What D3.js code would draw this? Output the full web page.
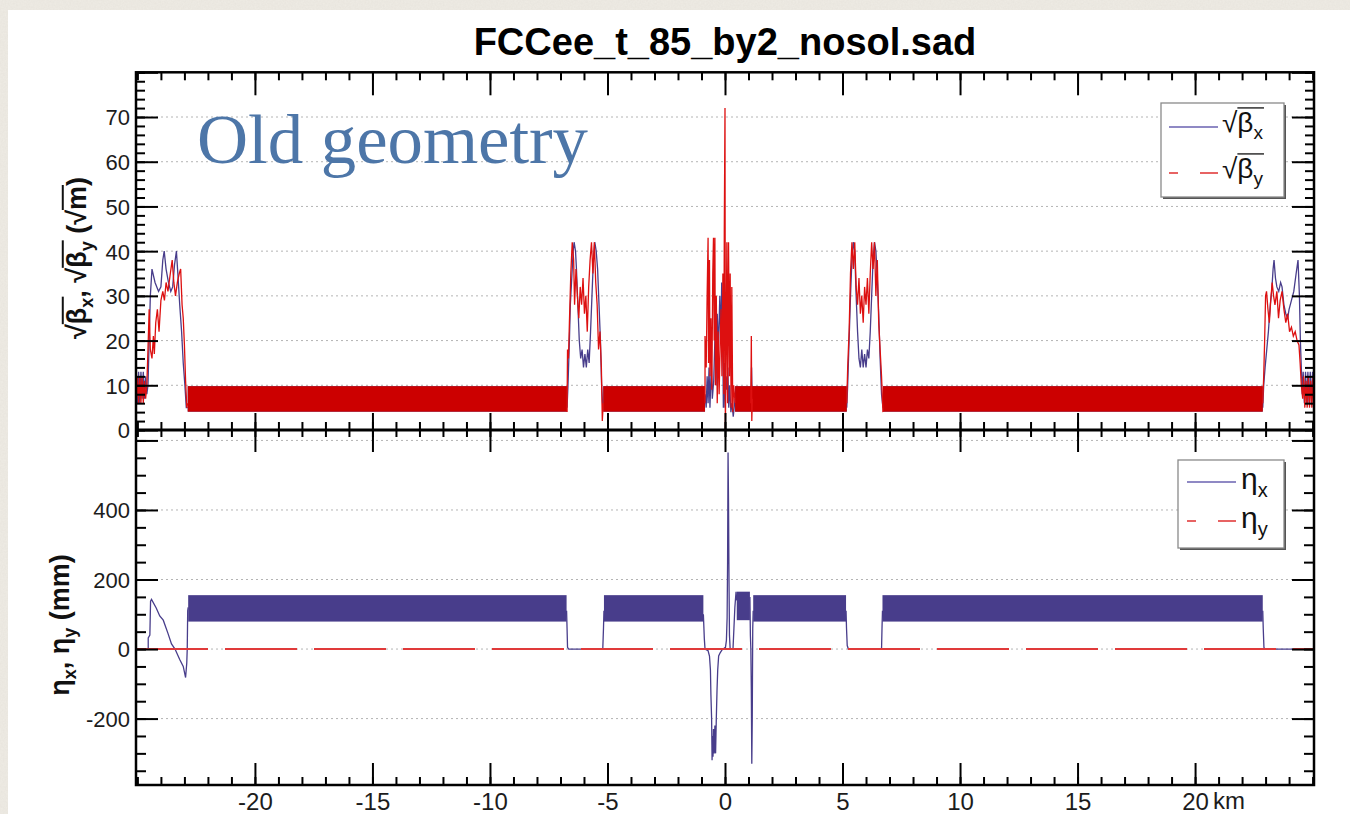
<!DOCTYPE html>
<html>
<head>
<meta charset="utf-8">
<script src="https://cdn.jsdelivr.net/npm/d3@7"></script>
<style>
  body { margin: 0; background: #eeebe4; }
  svg { display: block; }
  .tick line { stroke: #000; stroke-width: 2; }
  .tick text { font-family: "Liberation Sans", Arial, sans-serif; font-size: 22px; fill: #1c1c1c; }
</style>
</head>
<body>
<svg id="canvas" width="1350" height="814"></svg>
<script>
// ---- data ----
var sDomain = [-25.06, 25.06];
var betaDomain = [0, 80];
var etaDomain = [-391, 630];

var betaTicks = [0, 10, 20, 30, 40, 50, 60, 70, 80];
var betaTickLabels = ["0", "10", "20", "30", "40", "50", "60", "70", ""];
var etaTicks = [-200, 0, 200, 400, 600];
var etaTickLabels = ["-200", "0", "200", "400", ""];
var sTicks = [-20, -15, -10, -5, 0, 5, 10, 15, 20];
var sTickLabels = ["-20", "-15", "-10", "-5", "0", "5", "10", "15", "20"];

// arcs: the FODO beating is so dense it reads as a filled band
var arcStart = [-22.86, -5.18, 0.43, 6.72];
var arcEnd = [-6.72, -0.85, 5.18, 22.88];
var arcBetaLo = [4.1, 4.1, 4.1, 4.1];
var arcBetaHi = [9.8, 9.8, 9.8, 9.8];

var etaBandStart = [-22.84, -5.15, 1.20, 6.70, 0.50];
var etaBandEnd = [-6.74, -0.92, 5.15, 22.88, 1.06];
var etaBandLo = [79, 79, 79, 79, 83];
var etaBandHi = [155, 155, 155, 155, 165];

// straight sections, sqrt(beta_x)
var betaXLeftEnd = [[-25.05,13],[-25.0,6],[-24.95,13],[-24.9,6],[-24.85,13],[-24.8,7],[-24.75,13],[-24.7,7],[-24.65,12],[-24.6,8],[-24.55,10],[-24.5,20],[-24.45,30],[-24.38,36],[-24.25,33],[-24.1,31],[-24.0,32],[-23.92,38],[-23.86,40],[-23.78,36],[-23.68,33],[-23.58,31],[-23.5,32],[-23.42,37],[-23.34,40],[-23.28,35],[-23.2,28],[-23.12,22],[-23.05,15],[-22.98,10],[-22.92,5],[-22.86,5]];
var betaXIrM6 = [[-6.72,5],[-6.68,10],[-6.62,20],[-6.58,28],[-6.52,34],[-6.46,40],[-6.42,42],[-6.36,40],[-6.32,36],[-6.26,28],[-6.2,20],[-6.14,16],[-6.08,18],[-6.02,14],[-5.96,17],[-5.9,14],[-5.84,18],[-5.78,15],[-5.72,22],[-5.66,30],[-5.6,38],[-5.54,42],[-5.48,40],[-5.42,36],[-5.36,28],[-5.3,20],[-5.25,10],[-5.2,5]];
var betaXIp = [[-0.85,8],[-0.8,5],[-0.76,12],[-0.72,6],[-0.68,14],[-0.64,5],[-0.58,15],[-0.54,7],[-0.48,11],[-0.42,22],[-0.38,10],[-0.33,26],[-0.28,18],[-0.22,30],[-0.18,20],[-0.14,33],[-0.1,22],[-0.07,5],[-0.03,15],[0,5],[0.04,12],[0.08,9],[0.12,14],[0.16,5],[0.2,10],[0.25,4],[0.3,6],[0.35,3],[0.43,7]];
var betaXIrP6 = [[5.18,5],[5.22,10],[5.28,20],[5.34,30],[5.4,38],[5.46,42],[5.52,40],[5.58,30],[5.64,22],[5.7,16],[5.76,14],[5.82,18],[5.88,14],[5.94,17],[6.0,14],[6.06,18],[6.12,16],[6.18,22],[6.24,30],[6.3,38],[6.36,42],[6.42,40],[6.48,34],[6.54,26],[6.6,16],[6.66,8],[6.72,5]];
var betaXRightEnd = [[22.88,5],[22.92,10],[22.98,14],[23.05,18],[23.12,22],[23.2,28],[23.26,31],[23.32,36],[23.36,38],[23.42,34],[23.48,32],[23.56,31],[23.64,33],[23.7,32],[23.78,28],[23.86,26],[23.94,25],[24.0,27],[24.1,29],[24.2,31],[24.3,35],[24.38,38],[24.44,30],[24.48,20],[24.52,14],[24.56,8],[24.6,13],[24.65,6],[24.7,13],[24.75,6],[24.8,13],[24.85,6],[24.9,13],[24.95,6],[25.0,13],[25.05,6]];
var betaXSpike = [[1.1,6],[1.13,14],[1.16,5]];

// straight sections, sqrt(beta_y)
var betaYLeftEnd = [[-25.05,6],[-25.0,12],[-24.95,6],[-24.9,12],[-24.85,6],[-24.8,12],[-24.75,6],[-24.7,11],[-24.65,7],[-24.6,10],[-24.55,18],[-24.5,27],[-24.45,18],[-24.38,16],[-24.32,21],[-24.28,17],[-24.22,24],[-24.15,27],[-24.08,22],[-24.0,29],[-23.92,31],[-23.85,29],[-23.78,33],[-23.7,31],[-23.6,35],[-23.52,38],[-23.45,33],[-23.38,30],[-23.3,33],[-23.22,35],[-23.16,36],[-23.1,28],[-23.05,25],[-23.0,19],[-22.95,11],[-22.9,5],[-22.86,6]];
var betaYIrM6 = [[-6.72,4],[-6.7,18],[-6.66,16],[-6.62,24],[-6.56,35],[-6.5,42],[-6.44,38],[-6.4,28],[-6.34,36],[-6.28,30],[-6.22,25],[-6.16,32],[-6.1,28],[-6.04,34],[-5.98,26],[-5.92,30],[-5.86,22],[-5.8,32],[-5.74,38],[-5.68,42],[-5.62,35],[-5.56,42],[-5.5,33],[-5.44,28],[-5.38,18],[-5.32,22],[-5.26,14],[-5.22,2],[-5.18,6]];
var betaYIp = [[-0.85,6],[-0.85,21],[-0.8,14],[-0.76,30],[-0.72,43],[-0.7,15],[-0.66,38],[-0.64,12],[-0.6,25],[-0.56,9],[-0.52,35],[-0.49,43],[-0.46,20],[-0.43,43],[-0.41,10],[-0.37,30],[-0.33,6],[-0.29,22],[-0.25,8],[-0.21,18],[-0.17,27],[-0.13,12],[-0.09,35],[-0.05,8],[-0.03,45],[0,72],[0.015,0],[0.05,20],[0.08,42],[0.11,6],[0.15,42],[0.19,12],[0.22,35],[0.26,5],[0.29,32],[0.33,4],[0.37,10],[0.43,6]];
var betaYIrP6 = [[5.18,6],[5.22,14],[5.28,22],[5.34,35],[5.4,42],[5.46,36],[5.52,42],[5.58,32],[5.64,28],[5.7,34],[5.76,26],[5.82,30],[5.88,24],[5.94,32],[6.0,28],[6.06,34],[6.12,26],[6.18,35],[6.24,42],[6.3,36],[6.36,42],[6.42,30],[6.48,38],[6.54,24],[6.6,18],[6.66,12],[6.72,4]];
var betaYRightEnd = [[22.88,6],[22.92,12],[22.96,20],[23.0,30],[23.04,31],[23.1,27],[23.16,24],[23.22,29],[23.28,33],[23.34,30],[23.4,28],[23.48,31],[23.55,25],[23.62,29],[23.7,31],[23.78,27],[23.86,24],[23.94,26],[24.02,22],[24.1,23],[24.18,21],[24.26,22],[24.34,20],[24.42,19],[24.47,15],[24.52,10],[24.58,7],[24.62,12],[24.67,5],[24.72,11],[24.77,5],[24.82,12],[24.87,5],[24.92,11],[24.97,5],[25.02,12],[25.05,6]];
var betaYSpike = [[1.1,6],[1.12,21],[1.14,2],[1.16,7]];

// dispersion outside the arc bands
var etaXLeftEnd = [[-25.06,0],[-24.54,0],[-24.54,32],[-24.47,40],[-24.44,138],[-24.4,143],[-24.2,118],[-24.05,95],[-23.9,83],[-23.7,45],[-23.55,15],[-23.4,0],[-23.2,-30],[-23.05,-50],[-22.95,-82],[-22.9,-40],[-22.88,0],[-22.86,110],[-22.84,120]];
var etaXIrM6 = [[-6.74,110],[-6.72,60],[-6.7,5],[-6.65,0],[-5.2,0],[-5.17,60],[-5.15,110]];
var etaXIp = [[-0.92,100],[-0.88,30],[-0.85,0],[-0.72,-5],[-0.66,-20],[-0.62,-60],[-0.6,-130],[-0.57,-200],[-0.55,-320],[-0.53,-250],[-0.51,-310],[-0.49,-230],[-0.46,-300],[-0.43,-220],[-0.4,-300],[-0.37,-200],[-0.34,-120],[-0.31,-60],[-0.27,-20],[-0.2,-10],[-0.12,-2],[0.02,5],[0.06,25],[0.09,90],[0.11,250],[0.13,565],[0.15,420],[0.17,200],[0.19,40],[0.22,0],[0.34,0],[0.38,60],[0.42,120],[0.47,165],[0.5,140]];
var etaXIpRight = [[1.06,150],[1.08,40],[1.1,0],[1.12,-120],[1.14,-330],[1.16,-200],[1.18,60],[1.2,110]];
var etaXIrP6 = [[5.15,110],[5.17,60],[5.2,10],[5.25,0],[6.66,0],[6.68,60],[6.7,110]];
var etaXRightEnd = [[22.88,110],[22.9,60],[22.93,5],[22.96,0],[25.06,0]];
var etaY = [[-25.06,0],[25.06,0]];

var betaXSegments = [betaXLeftEnd, betaXIrM6, betaXIp, betaXIrP6, betaXRightEnd, betaXSpike];
var betaYSegments = [betaYLeftEnd, betaYIrM6, betaYIp, betaYIrP6, betaYRightEnd, betaYSpike];
var etaXSegments = [etaXLeftEnd, etaXIrM6, etaXIp, etaXIpRight, etaXIrP6, etaXRightEnd];

(function(){

    var BLUE = "#483d8b", RED = "#cc0000";
    var L = 136, R = 1314, TOP = 72.3, MID = 430, BOT = 785;

    var svg = d3.select("#canvas");

    // paper background + white slide
    var defs = svg.append("defs");
    var f = defs.append("filter").attr("id", "paper");
    f.append("feTurbulence").attr("type", "fractalNoise").attr("baseFrequency", 0.6).attr("numOctaves", 2).attr("result", "n");
    f.append("feColorMatrix").attr("type", "matrix")
        .attr("values", "0 0 0 0 0.55  0 0 0 0 0.52  0 0 0 0 0.47  0 0 0 0.18 0");
    defs.append("clipPath").attr("id", "clipTop").append("rect")
        .attr("x", L).attr("y", TOP).attr("width", R - L).attr("height", MID - TOP);
    defs.append("clipPath").attr("id", "clipBot").append("rect")
        .attr("x", L).attr("y", MID).attr("width", R - L).attr("height", BOT - MID);

    svg.append("rect").attr("width", 1350).attr("height", 814).attr("fill", "#efece5");
    svg.append("rect").attr("width", 1350).attr("height", 814).attr("filter", "url(#paper)");
    svg.append("rect").attr("x", 8).attr("y", 10).attr("width", 1342).attr("height", 804).attr("fill", "#fff");

    var x = d3.scaleLinear().domain(sDomain).range([L, R]);
    var yTop = d3.scaleLinear().domain(betaDomain).range([MID, TOP]);
    var yBot = d3.scaleLinear().domain(etaDomain).range([BOT, MID]);

    function drawGrid(g, ticks, y){
        g.selectAll(null).data(ticks).enter().append("line")
            .attr("x1", L).attr("x2", R)
            .attr("y1", function(d){ return y(d); }).attr("y2", function(d){ return y(d); })
            .attr("stroke", "#b4b4b4").attr("stroke-width", 1).attr("stroke-dasharray", "2,3");
    }

    function drawBands(g, starts, ends, los, his, y, fill){
        g.selectAll(null).data(starts).enter().append("rect")
            .attr("x", function(d){ return x(d); })
            .attr("width", function(d, i){ return x(ends[i]) - x(d); })
            .attr("y", function(d, i){ return y(his[i]); })
            .attr("height", function(d, i){ return y(los[i]) - y(his[i]); })
            .attr("fill", fill);
    }

    function drawCurves(g, segs, y, color, width, dash){
        var line = d3.line().x(function(d){ return x(d[0]); }).y(function(d){ return y(d[1]); });
        g.selectAll(null).data(segs).enter().append("path")
            .attr("d", line).attr("fill", "none")
            .attr("stroke", color).attr("stroke-width", width)
            .attr("stroke-dasharray", dash || null);
    }

    function drawAxis(axis, tx, ty, labels){
        var a = svg.append("g").attr("transform", "translate(" + tx + "," + ty + ")").call(axis);
        a.select(".domain").remove();
        if (!labels) a.selectAll("text").remove();
        return a;
    }

    // ---------- top pad: sqrt(beta) ----------
    var top = svg.append("g").attr("clip-path", "url(#clipTop)");
    drawGrid(top, betaTicks.slice(1, 8), yTop);
    drawBands(top, arcStart, arcEnd, arcBetaLo, arcBetaHi, yTop, BLUE);
    drawCurves(top, betaXSegments, yTop, BLUE, 1.3);
    drawBands(top, arcStart, arcEnd, arcBetaLo, arcBetaHi, yTop, RED);
    drawCurves(top, betaYSegments, yTop, "#dd1010", 1.3);

    // ---------- bottom pad: dispersion ----------
    var bot = svg.append("g").attr("clip-path", "url(#clipBot)");
    drawGrid(bot, etaTicks, yBot);
    drawCurves(bot, etaXSegments, yBot, BLUE, 1.3);
    drawBands(bot, etaBandStart, etaBandEnd, etaBandLo, etaBandHi, yBot, BLUE);
    drawCurves(bot, [etaY], yBot, "#e03a3a", 2, "72,17");

    // ---------- axes ----------
    var minorS = d3.range(-25, 26, 1);
    // top pad
    drawAxis(d3.axisTop(x).tickValues(minorS).tickSizeInner(-8).tickSizeOuter(0), 0, TOP);
    drawAxis(d3.axisTop(x).tickValues(sTicks).tickSizeInner(-23).tickSizeOuter(0), 0, TOP);
    drawAxis(d3.axisBottom(x).tickValues(minorS).tickSizeInner(-8).tickSizeOuter(0), 0, MID);
    drawAxis(d3.axisBottom(x).tickValues(sTicks).tickSizeInner(-17).tickSizeOuter(0), 0, MID);
    drawAxis(d3.axisLeft(yTop).tickValues(d3.range(0, 81, 2)).tickSizeInner(-9).tickSizeOuter(0), L, 0);
    drawAxis(d3.axisLeft(yTop).tickValues(betaTicks).tickSizeInner(-22).tickSizeOuter(0).tickPadding(6)
        .tickFormat(function(d, i){ return betaTickLabels[i]; }), L, 0, true)
        .selectAll("text").attr("dy", "0.36em");
    drawAxis(d3.axisRight(yTop).tickValues(d3.range(0, 81, 2)).tickSizeInner(-9).tickSizeOuter(0), R, 0);
    drawAxis(d3.axisRight(yTop).tickValues(betaTicks).tickSizeInner(-22).tickSizeOuter(0), R, 0);
    // bottom pad
    var minorEta = d3.range(-350, 601, 50);
    drawAxis(d3.axisTop(x).tickValues(minorS).tickSizeInner(-7).tickSizeOuter(0), 0, MID);
    drawAxis(d3.axisTop(x).tickValues(sTicks).tickSizeInner(-22).tickSizeOuter(0), 0, MID);
    drawAxis(d3.axisBottom(x).tickValues(minorS).tickSizeInner(-8).tickSizeOuter(0), 0, BOT);
    var xb = drawAxis(d3.axisBottom(x).tickValues(sTicks).tickSizeInner(-22).tickSizeOuter(0).tickPadding(8)
        .tickFormat(function(d, i){ return sTickLabels[i]; }), 0, BOT, true);
    xb.selectAll("text").style("font-size", "24px");
    drawAxis(d3.axisLeft(yBot).tickValues(minorEta).tickSizeInner(-10).tickSizeOuter(0), L, 0);
    drawAxis(d3.axisLeft(yBot).tickValues(etaTicks).tickSizeInner(-22).tickSizeOuter(0).tickPadding(6)
        .tickFormat(function(d, i){ return etaTickLabels[i]; }), L, 0, true)
        .selectAll("text").attr("dy", "0.36em");
    drawAxis(d3.axisRight(yBot).tickValues(minorEta).tickSizeInner(-10).tickSizeOuter(0), R, 0);
    drawAxis(d3.axisRight(yBot).tickValues(etaTicks).tickSizeInner(-22).tickSizeOuter(0), R, 0);

    // frames
    svg.append("rect").attr("x", L).attr("y", TOP).attr("width", R - L).attr("height", BOT - TOP)
        .attr("fill", "none").attr("stroke", "#000").attr("stroke-width", 2.5);
    svg.append("line").attr("x1", L).attr("x2", R).attr("y1", MID).attr("y2", MID)
        .attr("stroke", "#000").attr("stroke-width", 3);

    svg.append("text").attr("x", 1213).attr("y", 809)
        .style("font-family", "Liberation Sans, Arial, sans-serif").style("font-size", "24px").attr("fill", "#1c1c1c")
        .text("km");

    // ---------- titles ----------
    svg.append("text").attr("x", 725).attr("y", 55).attr("text-anchor", "middle")
        .style("font-family", "Liberation Sans, Arial, sans-serif").style("font-weight", "bold").style("font-size", "38px")
        .text("FCCee_t_85_by2_nosol.sad");

    svg.append("text").attr("x", 197).attr("y", 163)
        .style("font-family", "Liberation Serif, Times New Roman, serif").style("font-size", "69px")
        .attr("fill", "#4d76a8").attr("textLength", 391).attr("lengthAdjust", "spacingAndGlyphs")
        .text("Old geometry");

    // text builder: parts = [[string, isSub]]; overlines = list of [fromChar, toChar]
    function richText(parent, tx, ty, parts, size, weight, anchor, overlines){
        var t = parent.append("text").attr("x", tx).attr("y", ty)
            .attr("text-anchor", anchor || "start")
            .style("font-family", "Liberation Sans, Arial, sans-serif")
            .style("font-size", size + "px").style("font-weight", weight || "normal").attr("fill", "#111");
        var shift = 0;
        parts.forEach(function(p){
            var sp = t.append("tspan").text(p[0]);
            var dy = p[1] ? size * 0.25 : 0;
            if (p[1]) sp.style("font-size", Math.round(size * 0.68) + "px");
            sp.attr("dy", dy - shift);
            shift = dy;
        });
        var node = t.node();
        (overlines || []).forEach(function(o){
            var a = node.getStartPositionOfChar(o[0]).x;
            var e = node.getExtentOfChar(o[1]);
            parent.append("line").attr("x1", a).attr("x2", e.x + e.width + 1)
                .attr("y1", ty - size * 0.86).attr("y2", ty - size * 0.86)
                .attr("stroke", "#111").attr("stroke-width", weight === "bold" ? 2 : 1.3);
        });
        return t;
    }

    // y axis titles
    var yt = svg.append("g").attr("transform", "translate(86,258) rotate(-90)");
    richText(yt, 0, 0, [["√β", 0], ["x", 1], [", √β", 0], ["y", 1], [" (√m)", 0]], 27, "bold", "middle",
        [[1, 2], [6, 7], [11, 11]]);
    var yb = svg.append("g").attr("transform", "translate(69,625) rotate(-90)");
    richText(yb, 0, 0, [["η", 0], ["x", 1], [", η", 0], ["y", 1], [" (mm)", 0]], 27, "bold", "middle");

    // ---------- legends ----------
    function legendBox(x0, y0, w, h){
        svg.append("rect").attr("x", x0 + 2).attr("y", y0 + 2).attr("width", w).attr("height", h).attr("fill", "#555");
        svg.append("rect").attr("x", x0).attr("y", y0).attr("width", w).attr("height", h)
            .attr("fill", "#fff").attr("stroke", "#8a8a8a").attr("stroke-width", 1.3);
    }
    function legendLine(x1, x2, y, color, dash, w){
        svg.append("line").attr("x1", x1).attr("x2", x2).attr("y1", y).attr("y2", y)
            .attr("stroke", color).attr("stroke-width", w).attr("stroke-dasharray", dash || null);
    }

    legendBox(1161, 103, 123, 94);
    legendLine(1169, 1218, 127, "#6a62b0", null, 1.5);
    richText(svg, 1222, 132, [["√β", 0], ["x", 1]], 28, "normal", "start", [[1, 2]]);
    legendLine(1169, 1218, 173, "#e03030", "9,22,20", 1.5);
    richText(svg, 1222, 178, [["√β", 0], ["y", 1]], 28, "normal", "start", [[1, 2]]);

    legendBox(1178, 460, 106, 88);
    legendLine(1187, 1236, 482, "#6a62b0", null, 1.5);
    richText(svg, 1241, 489, [["η", 0], ["x", 1]], 30, "normal", "start");
    legendLine(1187, 1236, 521, "#e03030", "9,22,20", 1.5);
    richText(svg, 1241, 528, [["η", 0], ["y", 1]], 30, "normal", "start");

})();
</script>
</body>
</html>
